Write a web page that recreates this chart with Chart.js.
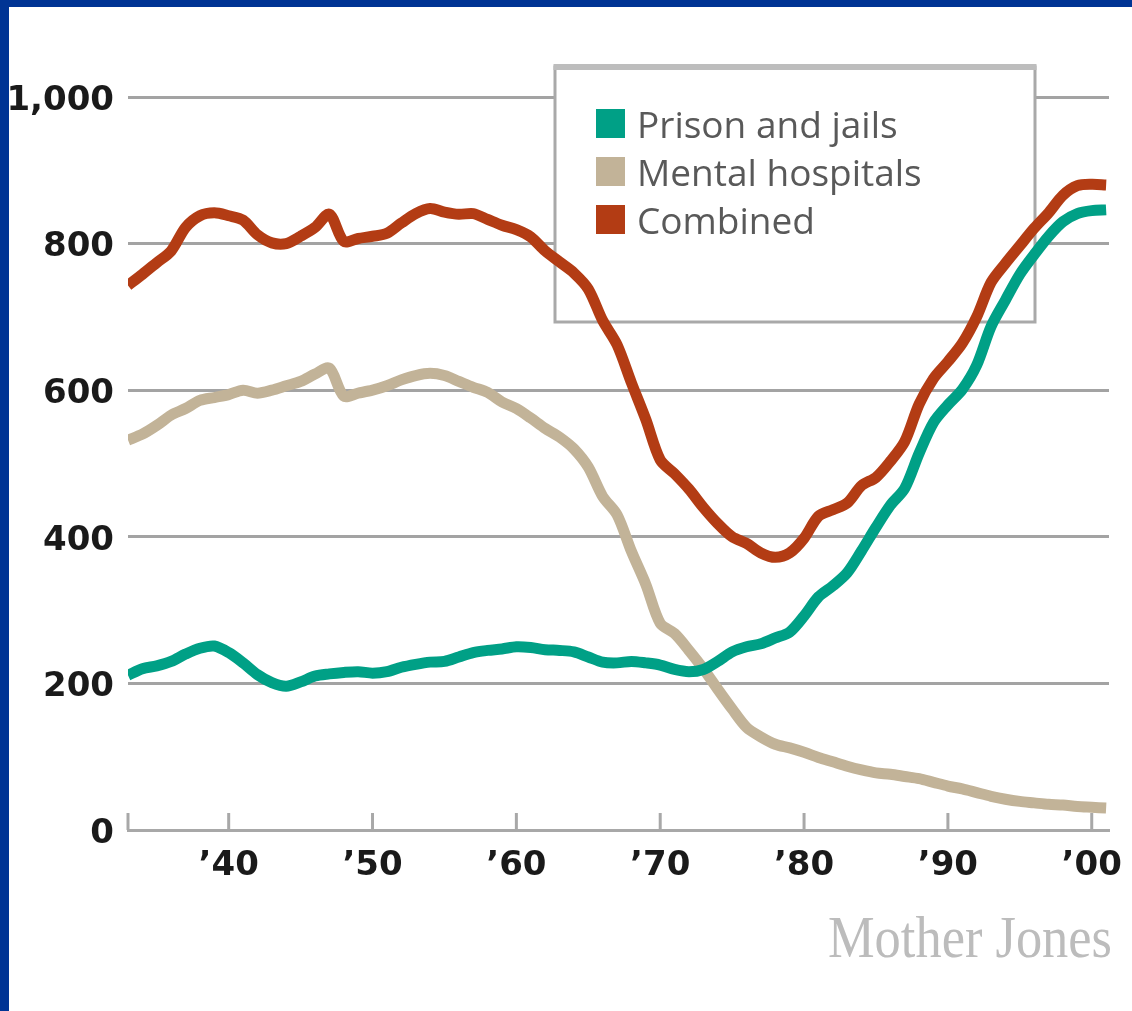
<!DOCTYPE html>
<html>
<head>
<meta charset="utf-8">
<script src="https://cdn.jsdelivr.net/npm/chart.js@4.4.1/dist/chart.umd.min.js"></script>
<style>
  html, body { margin: 0; padding: 0; background: #fff; }
  #frame {
    width: 1123px;
    height: 1004px;
    border-left: 9px solid #003494;
    border-top: 7px solid #003494;
    background: #fff;
  }
  #chart { display: block; }
</style>
</head>
<body>
<div id="frame"><canvas id="chart" width="1123" height="1004"></canvas></div>
<script>
const years = [
  1933, 1934, 1935, 1936, 1937, 1938, 1939, 1940, 1941, 1942,
  1943, 1944, 1945, 1946, 1947, 1948, 1949, 1950, 1951, 1952,
  1953, 1954, 1955, 1956, 1957, 1958, 1959, 1960, 1961, 1962,
  1963, 1964, 1965, 1966, 1967, 1968, 1969, 1970, 1971, 1972,
  1973, 1974, 1975, 1976, 1977, 1978, 1979, 1980, 1981, 1982,
  1983, 1984, 1985, 1986, 1987, 1988, 1989, 1990, 1991, 1992,
  1993, 1994, 1995, 1996, 1997, 1998, 1999, 2000, 2001
];

const prisons = [
  211, 220, 224, 230, 240, 248, 251, 242, 228, 212,
  201, 196, 202, 210, 213, 215, 216, 214, 216, 222,
  226, 229, 230, 236, 242, 245, 247, 250, 249, 246,
  245, 243, 236, 229, 228, 230, 228, 225, 219, 216,
  219, 230, 243, 250, 254, 262, 270, 292, 318, 333,
  351, 381, 413, 443, 466, 514, 556, 580, 601, 634,
  687, 723, 758, 785, 810, 830, 841, 845, 846
];

const mental = [
  532, 540, 552, 566, 575, 586, 590, 594, 600, 596,
  600, 606, 612, 622, 630, 592, 596, 600, 606, 614,
  620, 623, 620, 612, 604, 597, 584, 575, 562, 548,
  536, 520, 495, 455, 430, 380, 335, 282, 268, 245,
  220, 192, 165, 140, 127, 117, 112, 106, 99, 93,
  87, 82, 78, 76, 73, 70, 65, 60, 56, 51,
  46, 42, 39, 37, 35, 34, 32, 31, 30
];

const combined = [
  743, 758, 774, 790, 822, 838, 842, 838, 832, 812,
  801, 800, 810, 822, 840, 803, 807, 810, 814, 828,
  841, 848, 843, 840, 841, 833, 825, 819, 809, 790,
  775, 760, 738, 695, 662, 610, 560, 505, 486, 465,
  440, 418, 400, 391, 378, 372, 378, 398, 428, 437,
  446, 470, 481, 503, 530, 581, 616, 639, 664, 700,
  747, 773, 797, 821, 842, 866, 879, 881, 880
];

const xTicks = [1933, 1940, 1950, 1960, 1970, 1980, 1990, 2000];
const xTickLabels = ['', '\u201940', '\u201950', '\u201960', '\u201970', '\u201980', '\u201990', '\u201900'];
const yTicks = [0, 200, 400, 600, 800, 1000];
const yTickLabels = ['0', '200', '400', '600', '800', '1,000'];

const toPoints = (values) => values.map((v, i) => ({ x: years[i], y: v }));

// legend drawn as a white box on top of the grid, under the lines
const boxLegend = {
  id: 'boxLegend',
  beforeDatasetsDraw(chart) {
    const ctx = chart.ctx;
    const l = 546, t = 60, w = 480, h = 255;
    ctx.save();
    ctx.fillStyle = '#fff';
    ctx.fillRect(l, t, w, h);
    ctx.strokeStyle = '#a9a9a9';
    ctx.lineWidth = 3;
    ctx.strokeRect(l, t, w, h);
    ctx.fillStyle = '#bdbdbd';
    ctx.fillRect(l - 1.5, t - 3, w + 3, 6);

    ctx.font = '37px "Open Sans"';
    ctx.textBaseline = 'alphabetic';
    ctx.textAlign = 'left';
    chart.data.datasets.forEach((ds, i) => {
      const base = 131 + i * 48;
      ctx.fillStyle = ds.borderColor;
      ctx.fillRect(587, base - 29, 29, 29);
      ctx.fillStyle = '#595959';
      ctx.fillText(ds.label, 628, base, 290);
    });
    ctx.restore();
  }
};

// short tick marks pointing up from the x axis
const axisTicks = {
  id: 'axisTicks',
  beforeDatasetsDraw(chart) {
    const xs = chart.scales.x;
    const ctx = chart.ctx;
    const y0 = chart.chartArea.bottom;
    ctx.save();
    ctx.strokeStyle = '#a8a8a8';
    ctx.lineWidth = 3;
    xs.ticks.forEach(t => {
      const px = xs.getPixelForValue(t.value);
      ctx.beginPath();
      ctx.moveTo(px, y0);
      ctx.lineTo(px, y0 - 17);
      ctx.stroke();
    });
    ctx.restore();
  }
};

const credit = {
  id: 'credit',
  afterDraw(chart) {
    const ctx = chart.ctx;
    ctx.save();
    ctx.font = '60px "Liberation Serif"';
    ctx.fillStyle = '#bcbcbc';
    ctx.textBaseline = 'alphabetic';
    ctx.textAlign = 'left';
    ctx.fillText('Mother Jones', 819, 950, 284);
    ctx.restore();
  }
};

const lineStyle = {
  borderWidth: 11,
  pointRadius: 0,
  tension: 0.3,
  fill: false,
  borderCapStyle: 'butt',
  borderJoinStyle: 'round'
};

const tickFont = { family: 'DejaVu Sans', size: 34, weight: 'bold' };

new Chart(document.getElementById('chart'), {
  type: 'line',
  data: {
    datasets: [
      { label: 'Prison and jails', data: toPoints(prisons), borderColor: '#00a086', order: 1, ...lineStyle },
      { label: 'Mental hospitals', data: toPoints(mental), borderColor: '#c2b398', order: 2, ...lineStyle },
      { label: 'Combined', data: toPoints(combined), borderColor: '#b33c14', order: 0, ...lineStyle }
    ]
  },
  options: {
    responsive: false,
    animation: false,
    devicePixelRatio: 1,
    layout: {
      padding: { left: 0, top: 90, right: 23, bottom: 100 }
    },
    plugins: {
      legend: { display: false },
      tooltip: { enabled: false }
    },
    scales: {
      x: {
        type: 'linear',
        min: 1933,
        max: 2001.2,
        afterBuildTicks: (scale) => { scale.ticks = xTicks.map(v => ({ value: v })); },
        afterFit: (scale) => { scale.height = 81; },
        ticks: {
          autoSkip: false,
          maxRotation: 0,
          padding: 8,
          color: '#1a1a1a',
          font: tickFont,
          callback: (v, i) => xTickLabels[i]
        },
        grid: { display: false },
        border: { display: true, color: '#a8a8a8', width: 3 }
      },
      y: {
        min: 0,
        max: 1000,
        afterBuildTicks: (scale) => { scale.ticks = yTicks.map(v => ({ value: v })); },
        afterFit: (scale) => { scale.width = 119; },
        ticks: {
          padding: 14,
          labelOffset: 4,
          color: '#1a1a1a',
          font: tickFont,
          callback: (v, i) => yTickLabels[i]
        },
        grid: { color: '#a3a3a3', lineWidth: 3, drawTicks: false },
        border: { display: false }
      }
    }
  },
  plugins: [boxLegend, axisTicks, credit]
});
</script>
</body>
</html>
